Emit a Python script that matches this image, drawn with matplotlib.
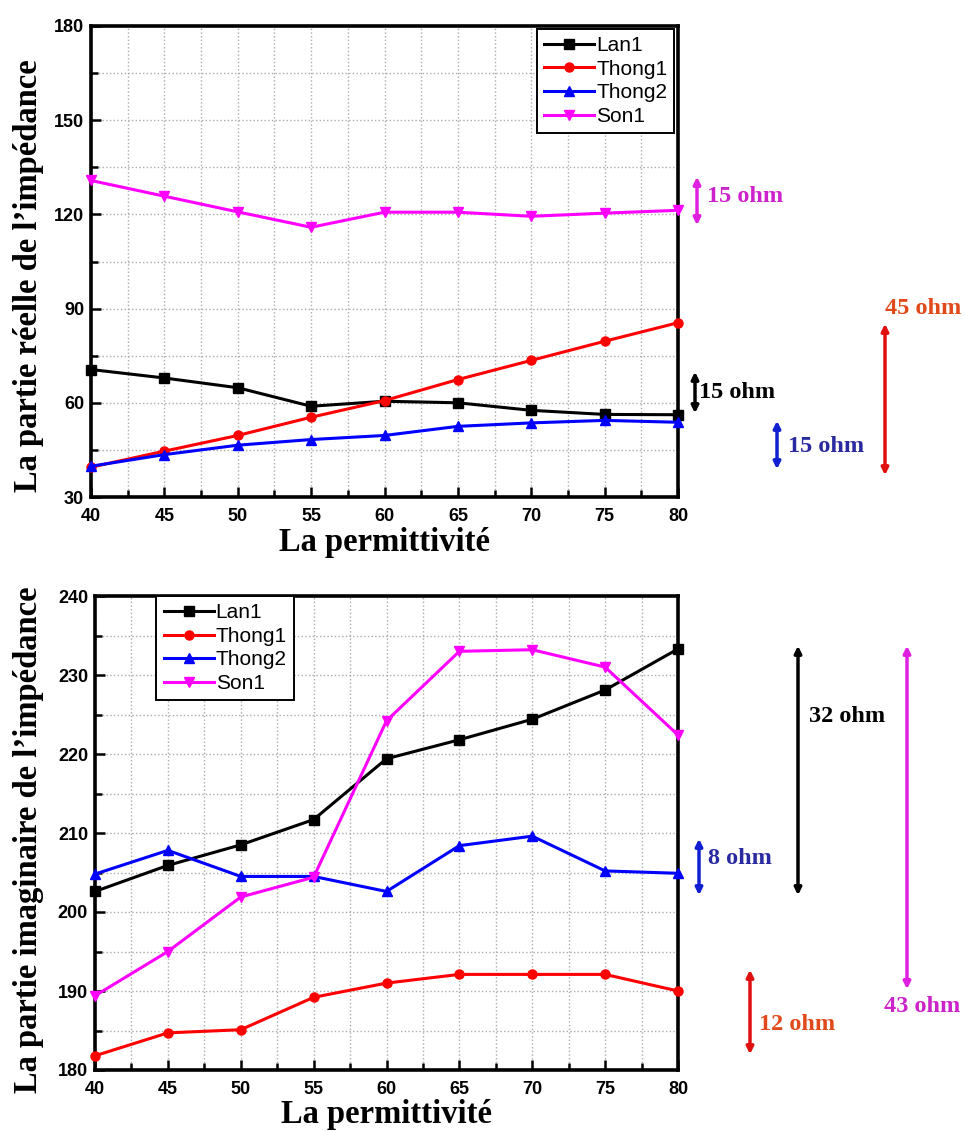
import matplotlib
matplotlib.use('Agg')
import matplotlib.pyplot as plt
from matplotlib.ticker import MultipleLocator

# permittivity values
permit = [40, 45, 50, 55, 60, 65, 70, 75, 80]
names = ['Lan1', 'Thong1', 'Thong2', 'Son1']

# partie reelle
reel_lan1 = [70.6, 67.9, 64.8, 58.9, 60.5, 60.0, 57.6, 56.3, 56.2]
reel_thong1 = [39.5, 44.6, 49.6, 55.4, 60.7, 67.4, 73.5, 79.6, 85.5]
reel_thong2 = [39.8, 43.5, 46.5, 48.3, 49.6, 52.5, 53.6, 54.4, 53.8]
reel_son1 = [130.8, 125.8, 120.8, 115.9, 120.7, 120.7, 119.4, 120.4, 121.3]

# partie imaginaire
imag_lan1 = [202.6, 205.9, 208.5, 211.7, 219.4, 221.8, 224.4, 228.1, 233.3]
imag_thong1 = [181.8, 184.7, 185.1, 189.2, 191.0, 192.1, 192.1, 192.1, 190.0]
imag_thong2 = [204.8, 207.8, 204.5, 204.5, 202.6, 208.4, 209.6, 205.2, 204.9]
imag_son1 = [189.4, 195.0, 201.9, 204.4, 224.2, 233.0, 233.2, 231.0, 222.4]

# range annotations
reel_notes = ['15 ohm', '15 ohm', '15 ohm', '45 ohm']
imag_notes = ['32 ohm', '8 ohm', '12 ohm', '43 ohm']

colors = ['black', '#FF0000', '#0000FF', '#FF00FF']
markers = ['s', 'o', '^', 'v']

W, H = 965, 1131
fig = plt.figure(figsize=(W / 100, H / 100), dpi=100)

tick_font = {'family': 'Liberation Sans', 'weight': 'bold', 'size': 13}
label_font = {'family': 'Liberation Serif', 'weight': 'bold', 'size': 23.5}


def px_box(l, t, r, b):
	return [l / W, 1 - b / H, (r - l) / W, (b - t) / H]


def make_axes(rect, series, ylim, ymajor, yminor, ylabel, ylabel_xy, legend_loc, legend_anchor):
	ax = fig.add_axes(rect)
	for vals, c, m, n in zip(series, colors, markers, names):
		ax.plot(permit, vals, color=c, marker=m, markersize=6.5, linewidth=2.2, label=n, clip_on=False, zorder=3)
	ax.set_xlim(40, 80)
	ax.set_ylim(*ylim)
	ax.xaxis.set_major_locator(MultipleLocator(5))
	ax.xaxis.set_minor_locator(MultipleLocator(2.5))
	ax.yaxis.set_major_locator(MultipleLocator(ymajor))
	ax.yaxis.set_minor_locator(MultipleLocator(yminor))
	ax.grid(True, which='both', linestyle=':', color='#aaaaaa', linewidth=1)
	ax.tick_params(which='both', direction='in', width=1.8)
	ax.tick_params(which='major', length=7, pad=5)
	ax.tick_params(which='minor', length=5)
	ax.tick_params(axis='x', which='major', pad=8)
	for lab in ax.get_xticklabels() + ax.get_yticklabels():
		lab.set_fontproperties(tick_font)
	for s in ax.spines.values():
		s.set_linewidth(2.6)
	ax.set_xlabel('La permittivité', fontdict=label_font, labelpad=1)
	ax.set_ylabel(ylabel, fontdict=label_font)
	ax.yaxis.set_label_coords(*ylabel_xy)
	leg = ax.legend(loc=legend_loc, bbox_to_anchor=legend_anchor, fancybox=False, framealpha=1,
		edgecolor='black', prop={'family': 'Liberation Sans', 'size': 15}, handlelength=2.4,
		handletextpad=0.1, labelspacing=0.22, borderaxespad=0, borderpad=0.35)
	leg.get_frame().set_linewidth(1.4)
	return ax


ax1 = make_axes(px_box(91, 26, 678, 497), [reel_lan1, reel_thong1, reel_thong2, reel_son1],
	(30, 180), 30, 15, 'La partie réelle de l’impédance', (-0.08, 0.47), 'upper right', (0.994, 0.994))
ax2 = make_axes(px_box(95, 596, 678, 1070), [imag_lan1, imag_thong1, imag_thong2, imag_son1],
	(180, 240), 10, 5, 'La partie imaginaire de l’impédance', (-0.088, 0.485), 'upper left', (0.105, 1.0))


def range_arrow(x, y0, y1, color):
	fig.add_artist(matplotlib.patches.FancyArrowPatch((x / W, 1 - y0 / H), (x / W, 1 - y1 / H),
		transform=fig.transFigure, arrowstyle='<|-|>', mutation_scale=10, color=color, linewidth=2.5))


def note(x, y, s, color, ha='left'):
	fig.text(x / W, 1 - y / H, s, color=color, ha=ha, va='center',
		family='Liberation Serif', weight='bold', size=17.5)


# upper chart notes
range_arrow(697, 174, 228, '#E020E0')
note(707, 197, reel_notes[0], '#CC22CC')
range_arrow(695, 369, 416, 'black')
note(699, 392, reel_notes[1], 'black')
range_arrow(777, 418, 472, '#1020D0')
note(788, 446, reel_notes[2], '#2A2AA0')
range_arrow(885, 321, 478, '#E01010')
note(923, 309, reel_notes[3], '#E04A1A', ha='center')

# lower chart notes
range_arrow(798, 643, 898, 'black')
note(809, 717, imag_notes[0], 'black')
range_arrow(699, 836, 898, '#1020D0')
note(708, 858, imag_notes[1], '#2A2AA0')
range_arrow(750, 967, 1057, '#E01010')
note(759, 1025, imag_notes[2], '#E04A1A')
range_arrow(907, 643, 992, '#E020E0')
note(922, 1007, imag_notes[3], '#CC22CC', ha='center')

fig.savefig('out.png', dpi=100)
